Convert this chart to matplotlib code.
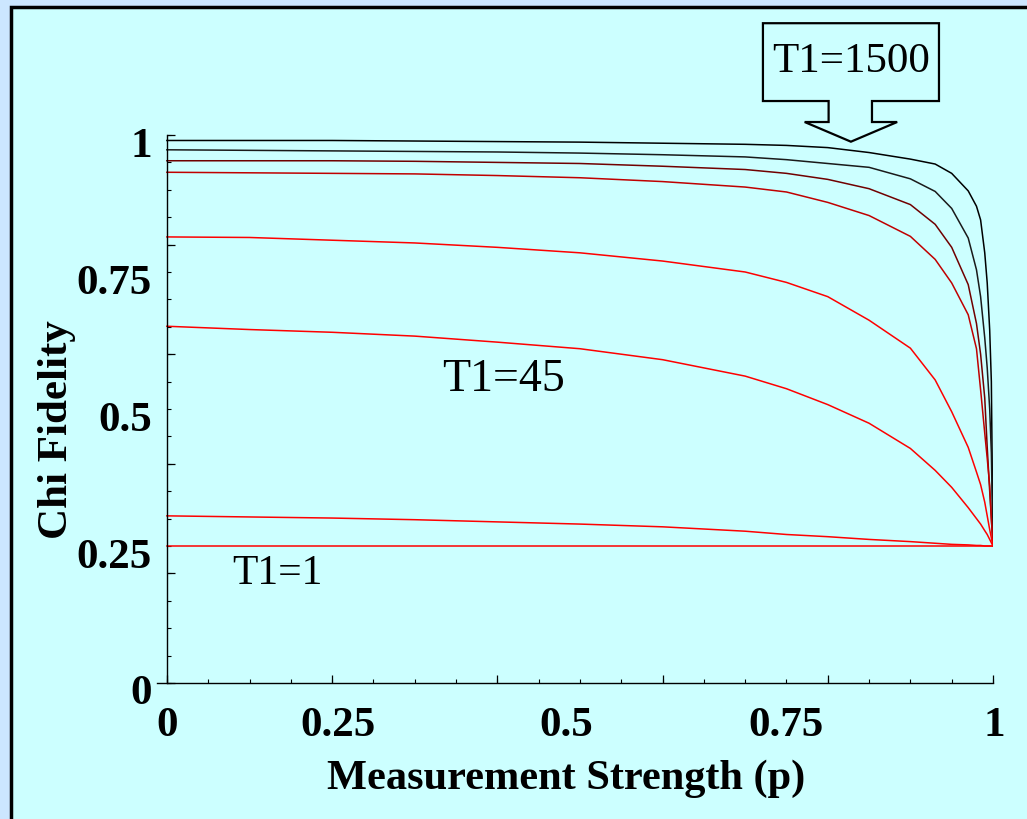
import matplotlib
matplotlib.use("Agg")
import matplotlib.pyplot as plt
from matplotlib.patches import Rectangle, Polygon
from matplotlib.ticker import MultipleLocator, FuncFormatter, NullFormatter
from matplotlib.transforms import ScaledTranslation

plt.rcParams['font.family'] = ['Liberation Serif', 'DejaVu Serif']

# ---- data ----
p = [0, 0.1, 0.2, 0.3, 0.4, 0.5, 0.6, 0.7, 0.75, 0.8, 0.85, 0.9, 0.93, 0.95,
     0.97, 0.98, 0.985, 0.99, 0.993, 0.996, 0.998, 1.0]

f_t1500 = [0.990, 0.990, 0.990, 0.989, 0.988, 0.987, 0.985, 0.983, 0.981, 0.977, 0.968,
           0.956, 0.947, 0.930, 0.898, 0.870, 0.845, 0.785, 0.730, 0.644, 0.55, 0.25]
f_c2 = [0.973, 0.972, 0.971, 0.970, 0.969, 0.967, 0.964, 0.960, 0.955, 0.948, 0.941,
        0.920, 0.897, 0.866, 0.812, 0.754, 0.705, 0.630, 0.575, 0.50, 0.42, 0.25]
f_c3 = [0.953, 0.953, 0.953, 0.952, 0.950, 0.948, 0.943, 0.937, 0.930, 0.919, 0.902,
        0.873, 0.837, 0.795, 0.727, 0.656, 0.600, 0.52, 0.43, 0.35, 0.30, 0.25]
f_c4 = [0.932, 0.931, 0.930, 0.929, 0.926, 0.922, 0.915, 0.905, 0.896, 0.877, 0.853,
        0.815, 0.773, 0.730, 0.672, 0.610, 0.535, 0.456, 0.41, 0.36, 0.30, 0.25]
f_c5 = [0.814, 0.813, 0.808, 0.803, 0.795, 0.785, 0.770, 0.750, 0.731, 0.705, 0.662,
        0.611, 0.553, 0.495, 0.430, 0.385, 0.362, 0.33, 0.305, 0.28, 0.265, 0.25]
f_t45 = [0.651, 0.645, 0.640, 0.633, 0.622, 0.610, 0.590, 0.560, 0.537, 0.508, 0.474,
         0.428, 0.388, 0.357, 0.320, 0.300, 0.290, 0.278, 0.271, 0.262, 0.256, 0.25]
f_c7 = [0.305, 0.303, 0.301, 0.298, 0.294, 0.290, 0.285, 0.277, 0.271, 0.267, 0.262,
        0.258, 0.255, 0.253, 0.252, 0.251, 0.251, 0.250, 0.250, 0.250, 0.250, 0.25]
f_t1 = [0.25] * len(p)

curves = [f_t1500, f_c2, f_c3, f_c4, f_c5, f_t45, f_c7, f_t1]
colors = ['#000000', '#1a1a1a', '#700000', '#c00000', '#ff0000', '#ff0000', '#ff0000', '#ff0000']

x_ticks = [0, 0.25, 0.5, 0.75, 1]
x_ticklabels = ['0', '0.25', '0.5', '0.75', '1']
y_ticks = [0, 0.25, 0.5, 0.75, 1]
y_ticklabels = ['0', '0.25', '0.5', '0.75', '1']

# ---- figure ----
W, H = 1027, 819
fig = plt.figure(figsize=(W / 100, H / 100), dpi=100, facecolor='#cce6ff')
fig.patches.append(Rectangle((11 / W, -0.1), 1.2, 1 - 7 / H + 0.1, transform=fig.transFigure,
                             facecolor='#ccffff', edgecolor='black', linewidth=2.5, zorder=-5))

ax = fig.add_axes([157 / W, 136 / H, 836 / W, 548 / H])
ax.set_zorder(1)
ax.set_facecolor('none')
for c, col in zip(curves, colors):
    ax.plot(p, c, color=col, linewidth=1.1)

ax.set_xlim(-0.012, 1.0)
ax.set_ylim(0, 1.0)
ax.spines['top'].set_visible(False)
ax.spines['right'].set_visible(False)
ax.spines['left'].set_position(('data', 0))
ax.spines['left'].set_linewidth(1.0)
ax.spines['bottom'].set_linewidth(1.0)


def make_fmt(vals, labs):
    table = {round(v, 4): s for v, s in zip(vals, labs)}
    return FuncFormatter(lambda v, pos: table.get(round(v, 4), ''))


for axis, vals, labs in ((ax.xaxis, x_ticks, x_ticklabels), (ax.yaxis, y_ticks, y_ticklabels)):
    axis.set_major_locator(MultipleLocator(0.2))
    axis.set_major_formatter(NullFormatter())
    axis.set_minor_locator(MultipleLocator(0.05))
    axis.set_minor_formatter(make_fmt(vals, labs))
    axis.remove_overlapping_locs = False

ax.tick_params(which='major', direction='in', length=5.5, width=0.9)
ax.tick_params(which='minor', direction='in', length=3, width=0.8, labelsize=31)
ax.tick_params(axis='x', which='minor', pad=17)
ax.tick_params(axis='y', which='minor', pad=11)

ax.set_xlabel('Measurement Strength (p)', fontsize=30.5, fontweight='bold', labelpad=11)
ax.xaxis.label.set_x((566 - 157) / 836)
ax.set_ylabel('Chi Fidelity', fontsize=31, fontweight='bold', labelpad=0)
ax.yaxis.label.set_y((683 - 430) / 548)

ax.text(0.134, 0.20, 'T1=1', fontsize=30, ha='center', va='center')
ax.text(0.408, 0.553, 'T1=45', fontsize=33, ha='center', va='center')

# callout box with down arrow for T1=1500
callout = [(0.7215, 1.204), (0.9346, 1.204), (0.9346, 1.062), (0.8535, 1.062),
           (0.8535, 1.0237), (0.884, 1.0237), (0.828, 0.9878), (0.772, 1.0237),
           (0.801, 1.0237), (0.801, 1.062), (0.7215, 1.062)]
ax.add_patch(Polygon(callout, closed=True, facecolor='#ccffff', edgecolor='black',
                     linewidth=1.6, clip_on=False, zorder=5))
ax.text(0.828, 1.133, 'T1=1500', fontsize=31, ha='center', va='center', zorder=6, clip_on=False)

# tick-label placement quirks of the original (pixel offsets)
fig.canvas.draw()
x_shift_px = {0.25: -35, 0.5: -14, 1.0: 1}
for t in ax.xaxis.get_minor_ticks():
    dx = x_shift_px.get(round(t.get_loc(), 4), 0)
    t.label1.set_fontweight('bold')
    if dx:
        t.label1.set_transform(t.label1.get_transform() +
                               ScaledTranslation(dx / 100, 0, fig.dpi_scale_trans))
for t in ax.yaxis.get_minor_ticks():
    t.label1.set_fontweight('bold')
    t.label1.set_transform(t.label1.get_transform() +
                           ScaledTranslation(0, -7 / 100, fig.dpi_scale_trans))

fig.savefig('out.png', dpi=100, facecolor=fig.get_facecolor())
